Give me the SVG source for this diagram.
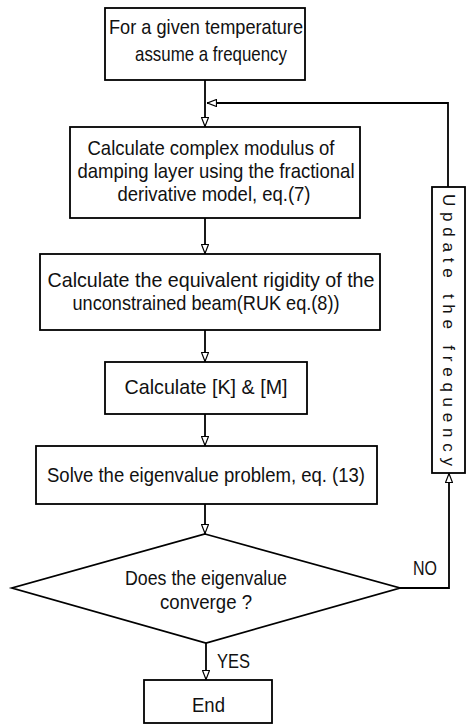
<svg xmlns="http://www.w3.org/2000/svg" width="468" height="726" viewBox="0 0 468 726">
<style>
.box{fill:#fff;stroke:#000;stroke-width:1.8}
.t{font-family:"Liberation Sans",Arial,sans-serif;font-size:21px;fill:#111;text-anchor:middle}
.ln{fill:none;stroke:#000;stroke-width:1.8}
</style>
<defs>
<marker id="ah" viewBox="0 0 10 8" refX="10" refY="4" markerWidth="10" markerHeight="8" markerUnits="userSpaceOnUse" orient="auto">
<path d="M0.5,0.5 L9.5,4 L0.5,7.5 Z" fill="#fff" stroke="#000" stroke-width="1.2"/>
</marker>
</defs>
<rect width="468" height="726" fill="#fff"/>
<g id="connectors">
<path class="ln" d="M205,80 V127" marker-end="url(#ah)"/>
<path class="ln" d="M448,187 V103 H207" marker-end="url(#ah)"/>
<path class="ln" d="M205,218 V254" marker-end="url(#ah)"/>
<path class="ln" d="M205,330 V362" marker-end="url(#ah)"/>
<path class="ln" d="M205,414 V446" marker-end="url(#ah)"/>
<path class="ln" d="M205,504 V534" marker-end="url(#ah)"/>
<path class="ln" d="M206,643 V680" marker-end="url(#ah)"/>
<path class="ln" d="M400,588 H449 V473" marker-end="url(#ah)"/>
<text class="t" x="233.5" y="668" textLength="33" lengthAdjust="spacingAndGlyphs">YES</text>
<text class="t" x="425" y="575" textLength="24" lengthAdjust="spacingAndGlyphs">NO</text>
</g>
<g id="n1">
<rect class="box" x="105" y="8" width="200" height="72"/>
<text class="t" x="206" y="34" textLength="194" lengthAdjust="spacingAndGlyphs">For a given temperature</text>
<text class="t" x="211" y="61" textLength="152" lengthAdjust="spacingAndGlyphs">assume a frequency</text>
</g>
<g id="n2">
<rect class="box" x="70" y="127" width="290" height="91"/>
<text class="t" x="211" y="155" textLength="247" lengthAdjust="spacingAndGlyphs">Calculate complex modulus of</text>
<text class="t" x="216" y="178" textLength="277" lengthAdjust="spacingAndGlyphs">damping layer using the fractional</text>
<text class="t" x="214" y="201" textLength="193" lengthAdjust="spacingAndGlyphs">derivative model, eq.(7)</text>
</g>
<g id="n3">
<rect class="box" x="40" y="254" width="340" height="76"/>
<text class="t" x="211" y="287" textLength="327" lengthAdjust="spacingAndGlyphs">Calculate the equivalent  rigidity of the</text>
<text class="t" x="206" y="310" textLength="267" lengthAdjust="spacingAndGlyphs">unconstrained beam(RUK eq.(8))</text>
</g>
<g id="n4">
<rect class="box" x="105" y="362" width="202" height="52"/>
<text class="t" x="206" y="394" textLength="163" lengthAdjust="spacingAndGlyphs">Calculate [K] &amp; [M]</text>
</g>
<g id="n5">
<rect class="box" x="36" y="446" width="341" height="58"/>
<text class="t" x="206" y="482" textLength="318" lengthAdjust="spacingAndGlyphs">Solve the eigenvalue problem, eq. (13)</text>
</g>
<g id="n6">
<polygon class="box" points="205,534 400,588 206,643 12,588"/>
<text class="t" x="206" y="585" textLength="162" lengthAdjust="spacingAndGlyphs">Does the eigenvalue</text>
<text class="t" x="206" y="609" textLength="92" lengthAdjust="spacingAndGlyphs">converge ?</text>
</g>
<g id="n7">
<rect class="box" x="144" y="680" width="128" height="43"/>
<text class="t" x="208.5" y="712" textLength="33" lengthAdjust="spacingAndGlyphs">End</text>
</g>
<g id="n8">
<rect class="box" x="432" y="187" width="33" height="286"/>
<text class="t" transform="translate(443,330) rotate(90)" x="0" y="0" style="font-size:17px" textLength="272" lengthAdjust="spacing">Update the frequency</text>
</g>
</svg>
